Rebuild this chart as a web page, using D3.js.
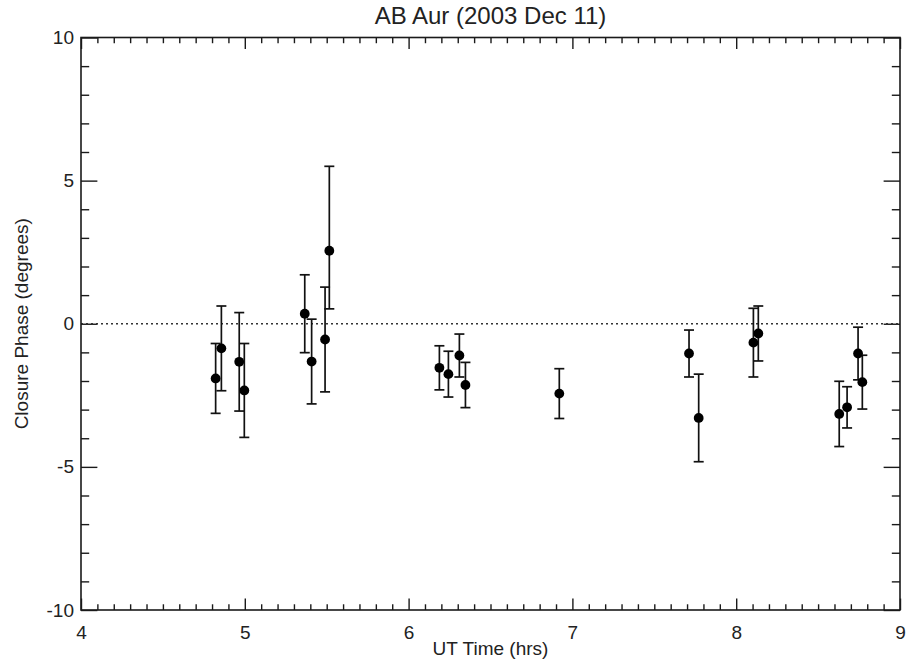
<!DOCTYPE html>
<html>
<head>
<meta charset="utf-8">
<script src="https://cdn.jsdelivr.net/npm/d3@7"></script>
<style>
  html, body { margin: 0; padding: 0; background: #fff; }
  svg { display: block; }
  text { font-family: "Liberation Sans", Arial, Helvetica, sans-serif; fill: #222; }
</style>
</head>
<body>
<svg id="chart" width="911" height="660"></svg>
<script>
// ---- data ----
const title = "AB Aur (2003 Dec 11)";
const xLabel = "UT Time (hrs)";
const yLabel = "Closure Phase (degrees)";
const times   = [4.822, 4.857, 4.966, 4.997, 5.366, 5.408, 5.490, 5.516, 6.188, 6.243, 6.310, 6.347, 6.920, 7.712, 7.771, 8.105, 8.135, 8.629, 8.677, 8.744, 8.770];
const phases  = [-1.91, -0.86, -1.33, -2.33, 0.35, -1.32, -0.55, 2.55, -1.54, -1.76, -1.11, -2.14, -2.44, -1.04, -3.29, -0.66, -0.34, -3.15, -2.92, -1.04, -2.04];
const errUp   = [1.22, 1.48, 1.72, 1.64, 1.36, 1.48, 1.83, 2.95, 0.77, 0.80, 0.75, 0.79, 0.87, 0.82, 1.53, 1.20, 0.96, 1.14, 0.72, 0.92, 0.94];
const errDown = [1.22, 1.48, 1.72, 1.64, 1.36, 1.48, 1.83, 2.03, 0.77, 0.80, 0.75, 0.79, 0.87, 0.82, 1.53, 1.20, 0.96, 1.14, 0.72, 0.92, 0.94];
const xTicks = [4, 5, 6, 7, 8, 9];
const yTicks = [-10, -5, 0, 5, 10];
const xDomain = [4, 9];
const yDomain = [-10, 10];

// ---- layout ----
const svg = d3.select("#chart");
const L = 81, R = 900, T = 37.5, B = 610;
const x = d3.scaleLinear().domain(xDomain).range([L, R]);
const y = d3.scaleLinear().domain(yDomain).range([B, T]);
const pw = R - L, ph = B - T;
const xMajor = 0.02 * ph, xMinorLen = xMajor / 2;
const yMajor = 0.02 * pw, yMinorLen = yMajor / 2;
const stroke = "#1a1a1a";
const fmt = d => String(d);

const xMinor = d3.range(40, 91).map(v => v / 10).filter(v => !xTicks.includes(v));
const yMinor = d3.range(-10, 11).filter(v => !yTicks.includes(v));

const gx = svg.append("g").attr("transform", `translate(0,${B})`)
  .call(d3.axisBottom(x).tickValues(xTicks).tickSizeInner(-xMajor).tickSizeOuter(0).tickPadding(xMajor + 4).tickFormat(fmt));
const gxm = svg.append("g").attr("transform", `translate(0,${B})`)
  .call(d3.axisBottom(x).tickValues(xMinor).tickSizeInner(-xMinorLen).tickSizeOuter(0).tickFormat(""));
const gxt = svg.append("g").attr("transform", `translate(0,${T})`)
  .call(d3.axisTop(x).tickValues(xTicks).tickSizeInner(-xMajor).tickSizeOuter(0).tickFormat(""));
const gxtm = svg.append("g").attr("transform", `translate(0,${T})`)
  .call(d3.axisTop(x).tickValues(xMinor).tickSizeInner(-xMinorLen).tickSizeOuter(0).tickFormat(""));
const gy = svg.append("g").attr("transform", `translate(${L},0)`)
  .call(d3.axisLeft(y).tickValues(yTicks).tickSizeInner(-yMajor).tickSizeOuter(0).tickPadding(7).tickFormat(fmt));
const gym = svg.append("g").attr("transform", `translate(${L},0)`)
  .call(d3.axisLeft(y).tickValues(yMinor).tickSizeInner(-yMinorLen).tickSizeOuter(0).tickFormat(""));
const gyr = svg.append("g").attr("transform", `translate(${R},0)`)
  .call(d3.axisRight(y).tickValues(yTicks).tickSizeInner(-yMajor).tickSizeOuter(0).tickFormat(""));
const gyrm = svg.append("g").attr("transform", `translate(${R},0)`)
  .call(d3.axisRight(y).tickValues(yMinor).tickSizeInner(-yMinorLen).tickSizeOuter(0).tickFormat(""));

[gx, gxm, gxt, gxtm, gy, gym, gyr, gyrm].forEach(g => {
  g.select(".domain").remove();
  g.selectAll("line").attr("stroke", stroke).attr("stroke-width", 1.4);
  g.selectAll("text").attr("font-size", 19).attr("fill", "#222")
    .style("font-family", "'Liberation Sans', Arial, sans-serif");
});

// zero reference dotted line
svg.append("line")
  .attr("x1", x(xDomain[0])).attr("x2", x(xDomain[1]))
  .attr("y1", y(0)).attr("y2", y(0))
  .attr("stroke", "#333").attr("stroke-width", 1.3).attr("stroke-dasharray", "2,3");

// frame
svg.append("rect").attr("x", L).attr("y", T).attr("width", pw).attr("height", ph)
  .attr("fill", "none").attr("stroke", stroke).attr("stroke-width", 1.6);

// error bars
const data = times.map((t, i) => ({t, p: phases[i], up: errUp[i], dn: errDown[i]}));
const eb = svg.append("g").attr("stroke", "#111").attr("stroke-width", 1.7);
const cap = 5;
data.forEach(d => {
  const yt = y(d.p + d.up), yb = y(d.p - d.dn), xc = x(d.t);
  eb.append("line").attr("x1", xc).attr("x2", xc).attr("y1", yb).attr("y2", yt);
  eb.append("line").attr("x1", xc - cap).attr("x2", xc + cap).attr("y1", yt).attr("y2", yt);
  eb.append("line").attr("x1", xc - cap).attr("x2", xc + cap).attr("y1", yb).attr("y2", yb);
});

// points
svg.append("g").selectAll("circle").data(data).join("circle")
  .attr("cx", d => x(d.t)).attr("cy", d => y(d.p)).attr("r", 4.9).attr("fill", "#000");

// title & labels
svg.append("text").attr("x", (L + R) / 2).attr("y", 24).attr("text-anchor", "middle")
  .attr("font-size", 24).text(title);
svg.append("text").attr("x", (L + R) / 2).attr("y", 655).attr("text-anchor", "middle")
  .attr("font-size", 19).text(xLabel);
svg.append("text").attr("transform", `translate(28,${(T + B) / 2}) rotate(-90)`).attr("text-anchor", "middle")
  .attr("font-size", 19).text(yLabel);
</script>
</body>
</html>
